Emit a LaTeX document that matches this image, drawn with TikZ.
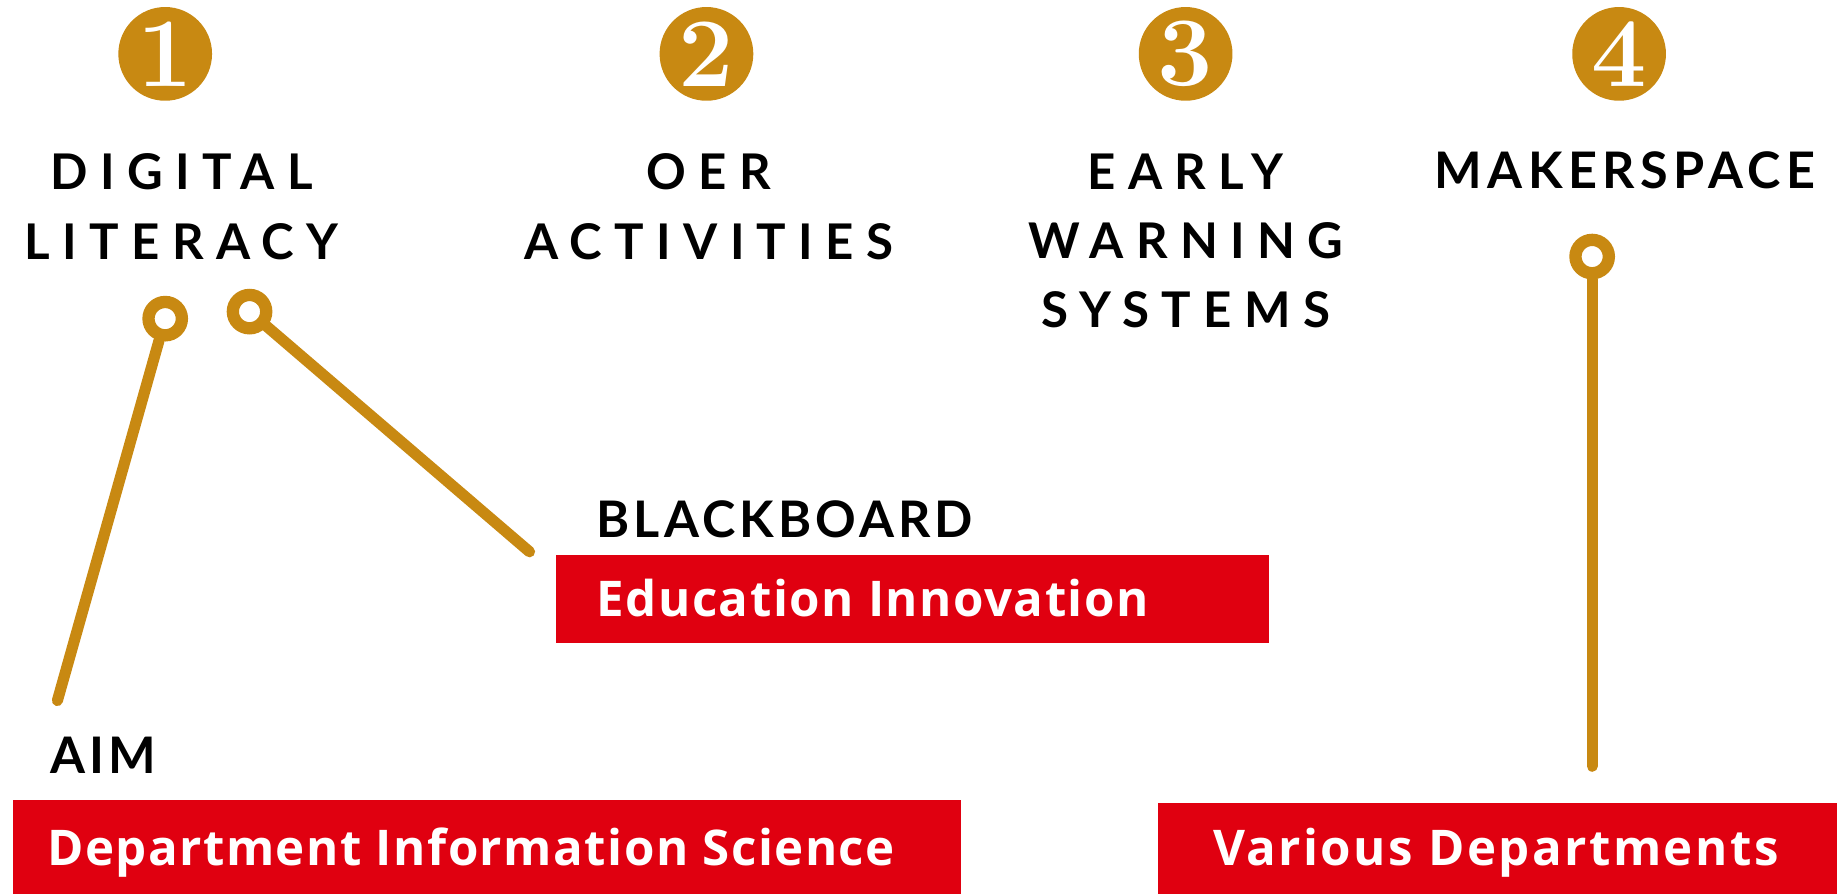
\documentclass[tikz,border=0pt]{standalone}
\usepackage{fontspec}
\newfontfamily\titlefont[LetterSpace=25]{Lato}
\newfontfamily\labelfont[LetterSpace=8]{Lato}
\newfontfamily\boxfont[LetterSpace=3]{Open Sans}
\definecolor{gold}{RGB}{200,137,18}
\definecolor{boxred}{RGB}{224,0,16}
\begin{document}
\begin{tikzpicture}[x=0.5pt,y=-0.5pt,
  numdot/.style={circle,fill=gold,minimum size=40pt,inner sep=0pt,text=white,font=\bfseries\fontsize{42}{42}\selectfont},
  titletext/.style={align=center,inner sep=0pt,anchor=north,font=\titlefont\bfseries\fontsize{21}{29.5}\selectfont},
  labeltext/.style={inner sep=0pt,anchor=base west,font=\labelfont\bfseries\fontsize{21.5}{26}\selectfont},
  boxtext/.style={inner sep=0pt,anchor=base west,text=white,font=\boxfont\bfseries\fontsize{21}{25}\selectfont},
  ring/.style={circle,draw=gold,line width=5.25pt,minimum size=14.25pt,inner sep=0pt},
  stem/.style={draw=gold,line width=4.75pt,line cap=round},
]
\useasboundingbox (0,0) rectangle (1568,763);
% number discs
\node[numdot] (n1) at (141,46) {1};
\node[numdot] (n2) at (603,46) {2};
\node[numdot] (n3) at (1012,46) {3};
\node[numdot] (n4) at (1382,46) {4};
% titles
\node[titletext] (t1) at (155,131) {DIGITAL\\LITERACY};
\node[titletext] (t2) at (605,131) {OER\\ACTIVITIES};
\node[titletext] (t3) at (1012,131) {EARLY\\WARNING\\SYSTEMS};
\node[labeltext,anchor=base] (t4) at (1387,161) {\addfontfeatures{LetterSpace=11}MAKERSPACE};
% red boxes
\fill[boxred] (11,683) rectangle (820,763);
\fill[boxred] (475,474) rectangle (1083,549);
\fill[boxred] (988,685) rectangle (1568,763);
% rings and stems
\node[ring] (rA) at (141,272) {};
\node[ring] (rB) at (213,266) {};
\node[ring] (rC) at (1359,219) {};
\coordinate (eA) at (49,598);
\coordinate (eB) at (452,471);
\coordinate (eC) at (1359,654);
\draw[stem] (rA) -- (eA);
\draw[stem] (rB) -- (eB);
\draw[stem] (rC) -- (eC);
% labels
\node[labeltext] (lA) at (43,660) {AIM};
\node[labeltext] (lB) at (509,459) {BLACKBOARD};
\node[boxtext] (b1) at (40,739) {Department Information Science};
\node[boxtext] (b2) at (509,526) {Education Innovation};
\node[boxtext] (b3) at (1035,739) {\addfontfeatures{LetterSpace=5}Various Departments};
\end{tikzpicture}
\end{document}
